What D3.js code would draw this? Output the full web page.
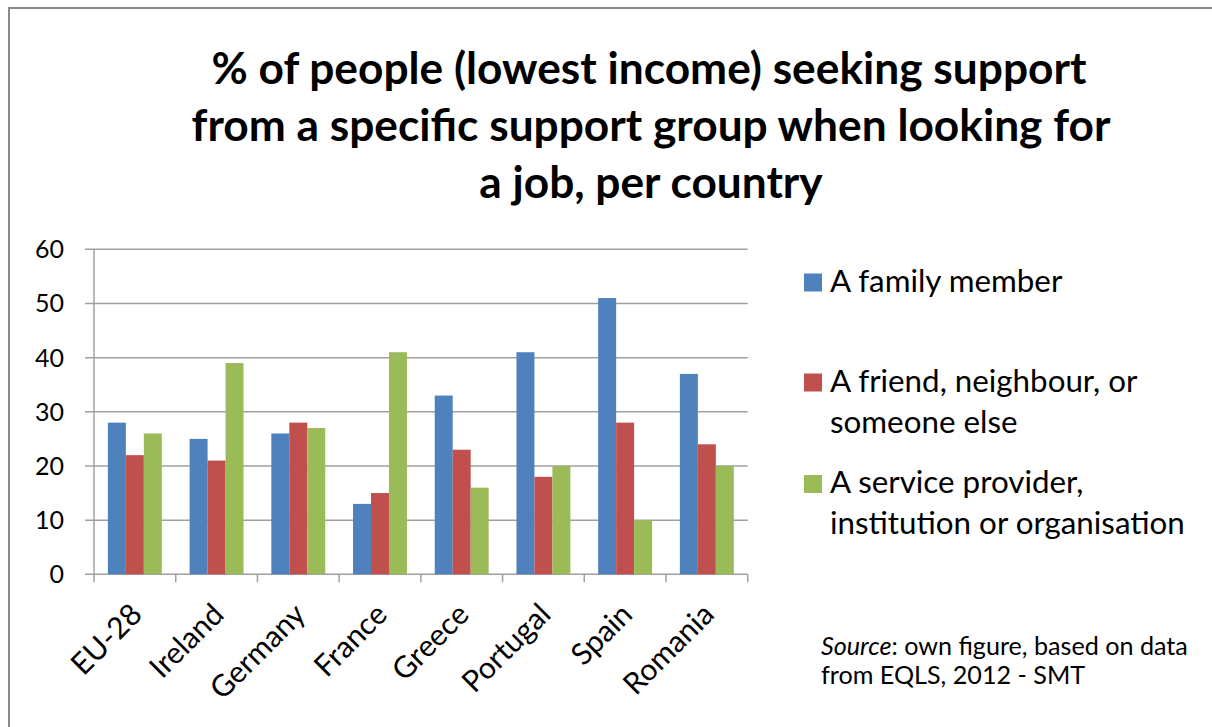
<!DOCTYPE html>
<html><head><meta charset="utf-8">
<script src="https://cdn.jsdelivr.net/npm/d3@7"></script>
<style>
html,body{margin:0;padding:0;background:#fff;}
svg{display:block;}
text{font-family:Lato,"Open Sans",sans-serif;fill:#000;}
</style></head>
<body>
<svg id="chart" width="1212" height="727"></svg>
<script>
const categories = ["EU-28","Ireland","Germany","France","Greece","Portugal","Spain","Romania"];
const seriesNames = ["A family member","A friend, neighbour, or someone else","A service provider, institution or organisation"];
const familyMember = [28,25,26,13,33,41,51,37];
const friendNeighbour = [22,21,28,15,23,18,28,24];
const serviceProvider = [26,39,27,41,16,20,10,20];
const yTicks = [0,10,20,30,40,50,60];
const legendLines = [["A family member"],["A friend, neighbour, or","someone else"],["A service provider,","institution or organisation"]];
const titleLines = ["% of people (lowest income) seeking support","from a specific support group when looking for","a job, per country"];
const colors = ["#4F81BD","#C0504D","#9BBB59"];

const seriesValues = [familyMember, friendNeighbour, serviceProvider];
const svg = d3.select("#chart");

// frame
svg.append("rect").attr("x",9).attr("y",8).attr("width",1300).attr("height",800)
  .attr("fill","none").attr("stroke","#8a8a8a").attr("stroke-width",2);

function fit(sel, width){
  const node = sel.node();
  const fs = parseFloat(sel.attr("font-size"));
  const w = node.getComputedTextLength();
  const nfs = fs*width/w;
  sel.attr("font-size", nfs);
  return nfs;
}

// title
const titleBase = [84,141,198];
const t0 = svg.append("text").attr("x",649).attr("y",titleBase[0]).attr("text-anchor","middle")
  .attr("font-weight",700).attr("font-size",36).text(titleLines[0]);
const tfs = fit(t0, 875);
titleLines.slice(1).forEach((l,i)=>{
  svg.append("text").attr("x",651).attr("y",titleBase[i+1]).attr("text-anchor","middle")
    .attr("font-weight",700).attr("font-size",tfs).text(l);
});

// scales
const x = d3.scaleBand().domain(categories).range([94,747.7]).paddingInner(0.34).paddingOuter(0.17);
const xInner = d3.scaleBand().domain(d3.range(3)).range([0,x.bandwidth()]);
const y = d3.scaleLinear().domain([0,60]).range([574.3,249.3]);

// gridlines
svg.append("g").selectAll("line").data(yTicks).join("line")
  .attr("x1",85).attr("x2",747.7).attr("y1",d=>y(d)).attr("y2",d=>y(d))
  .attr("stroke","#a0a0a0").attr("stroke-width",1.5);
// y axis line
svg.append("line").attr("x1",94).attr("x2",94).attr("y1",y(60)).attr("y2",y(0))
  .attr("stroke","#a0a0a0").attr("stroke-width",1.5);
// x ticks at band boundaries
const step = x.step();
const bounds = d3.range(categories.length+1).map(i=>94+i*step);
svg.append("g").selectAll("line").data(bounds).join("line")
  .attr("x1",d=>d).attr("x2",d=>d).attr("y1",y(0)).attr("y2",y(0)+8)
  .attr("stroke","#a0a0a0").attr("stroke-width",1.5);

// y labels
svg.append("g").selectAll("text").data(yTicks).join("text")
  .attr("x",64).attr("y",d=>y(d)).attr("dy","0.36em").attr("text-anchor","end")
  .attr("font-size",25).text(d=>d);

// bars
const groups = svg.append("g").selectAll("g").data(categories).join("g")
  .attr("transform",d=>`translate(${x(d)},0)`);
groups.selectAll("rect").data((d,ci)=>seriesValues.map((s,si)=>({si,v:s[ci]}))).join("rect")
  .attr("x",d=>xInner(d.si)).attr("width",xInner.bandwidth())
  .attr("y",d=>y(d.v)).attr("height",d=>y(0)-y(d.v))
  .attr("fill",d=>colors[d.si]);

// x labels
svg.append("g").selectAll("text").data(categories).join("text")
  .attr("transform",d=>`translate(${x(d)+x.bandwidth()/2+9},${y(0)+42}) rotate(-45)`)
  .attr("text-anchor","end").attr("font-size",30).text(d=>d);

// legend
const legY = [291.5,391.5,493];
const lg = svg.append("g");
let legFs = null;
legendLines.forEach((lines,i)=>{
  lg.append("rect").attr("x",804).attr("y",legY[i]-18).attr("width",18).attr("height",18).attr("fill",colors[i]);
  lines.forEach((l,j)=>{
    const t = lg.append("text").attr("x",830).attr("y",legY[i]+j*41).attr("font-size",legFs||24).text(l);
    if(i===2 && j===1){ legFs = fit(t,355); }
  });
});
lg.selectAll("text").attr("font-size",legFs);

// source
const s1 = svg.append("text").attr("x",821).attr("y",655).attr("font-size",20);
s1.append("tspan").attr("font-style","italic").text("Source");
s1.append("tspan").text(": own figure, based on data");
const sfs = fit(s1, 367);
svg.append("text").attr("x",821).attr("y",684).attr("font-size",sfs).text("from EQLS, 2012 - SMT");
</script>
</body></html>
